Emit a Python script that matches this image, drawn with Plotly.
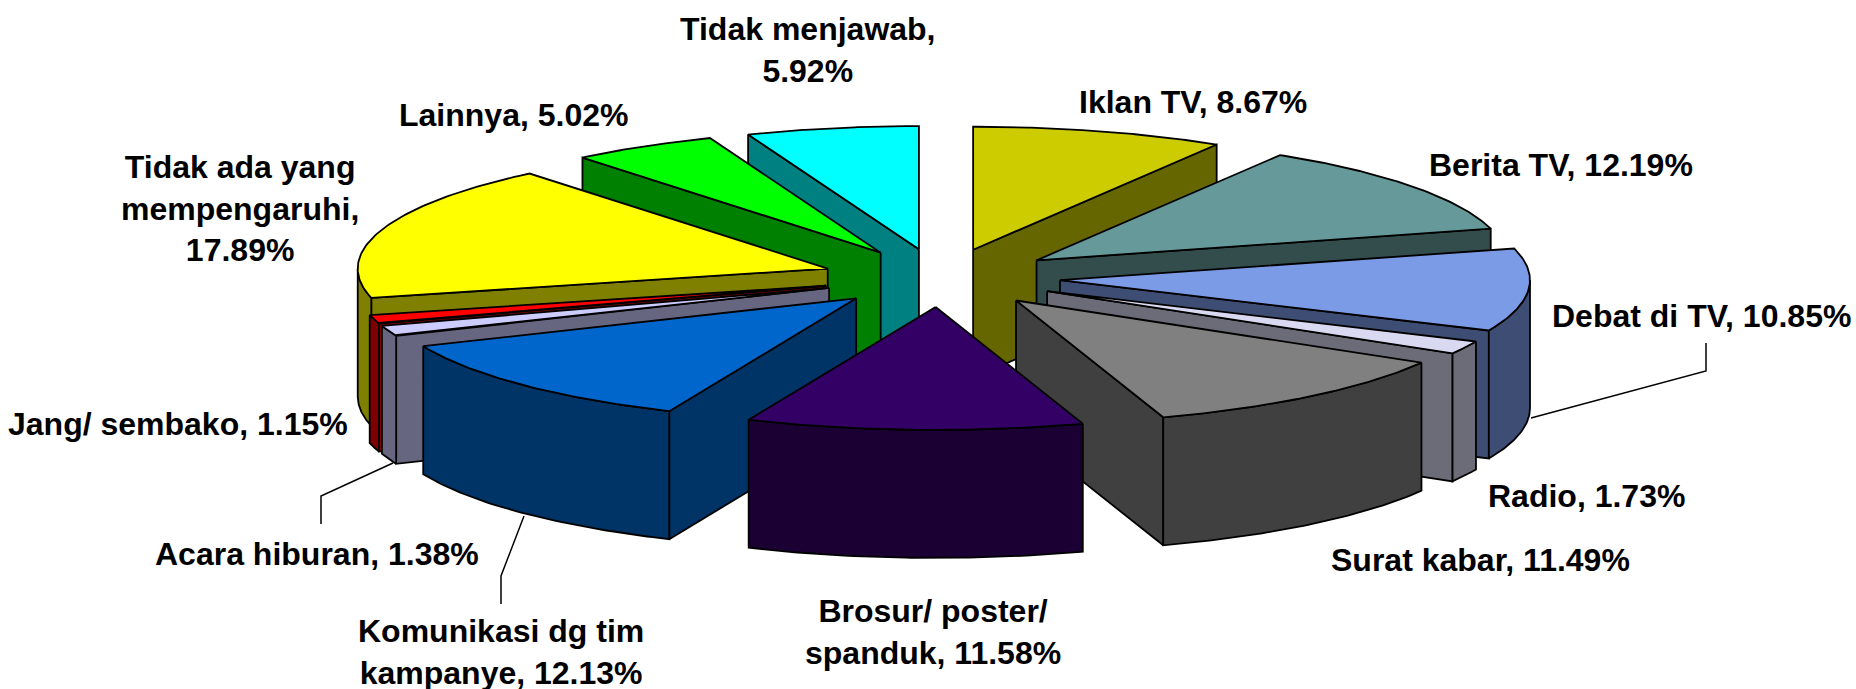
import numpy as np
import plotly.graph_objects as go

categories = ["Iklan TV", "Berita TV", "Debat di TV", "Radio", "Surat kabar",
              "Brosur/ poster/ spanduk", "Komunikasi dg tim kampanye",
              "Acara hiburan", "Jang/ sembako", "Tidak ada yang mempengaruhi",
              "Lainnya", "Tidak menjawab"]
values = [8.67, 12.19, 10.85, 1.73, 11.49, 11.58, 12.13, 1.38, 1.15, 17.89, 5.02, 5.92]
top_colors = ["#CCCC00", "#669999", "#7B9BE6", "#D9D9F2", "#808080", "#330066",
              "#0066CC", "#CCCCFF", "#FF0000", "#FFFF00", "#00FF00", "#00FFFF"]
side_colors = ["#666600", "#334D4D", "#3D4D73", "#6C6C79", "#404040", "#1A0033",
               "#003366", "#666680", "#800000", "#808000", "#008000", "#008080"]
label_texts = ["Iklan TV, {}", "Berita TV, {}", "Debat di TV, {}", "Radio, {}",
               "Surat kabar, {}", "Brosur/ poster/<br>spanduk, {}",
               "Komunikasi dg tim<br>kampanye, {}", "Acara hiburan, {}",
               "Jang/ sembako, {}", "Tidak ada yang<br>mempengaruhi,<br>{}",
               "Lainnya, {}", "Tidak menjawab,<br>{}"]
label_x = [1193, 1561, 1701, 1586, 1480, 933, 501, 317, 178, 240, 513, 808]
label_y = [102, 165, 316, 496, 560, 632, 652, 554, 424, 208, 115, 50]
leaders = [([1706, 1706, 1531], [343, 371, 418]),
           ([393, 321, 321], [463, 496, 524]),
           ([524, 501, 501], [516, 576, 604])]

W, H = 1856, 689
CX, CY, RX, RY = 941.0, 277.8, 470.0, 123.0
EXPLODE_X, EXPLODE_Y, DEPTH = 0.254, 0.237, 128.0
EDGE = dict(color="black", width=1.8)

fig = go.Figure()


def face(xs, ys, color):
    fig.add_trace(go.Scatter(x=list(xs), y=list(ys), mode="lines", fill="toself",
                             fillcolor=color, line=EDGE, hoverinfo="skip",
                             showlegend=False))


for lx, ly in leaders:
    fig.add_trace(go.Scatter(x=lx, y=ly, mode="lines", hoverinfo="skip",
                             line=dict(color="black", width=1.5), showlegend=False))

edges = np.cumsum([0] + values) / sum(values) * 2 * np.pi
mids = (edges[:-1] + edges[1:]) / 2

for i in np.argsort(-np.cos(mids)):
    t1, t2, m = edges[i], edges[i + 1], mids[i]
    ax = CX + EXPLODE_X * RX * np.sin(m)
    ay = CY - EXPLODE_Y * RY * np.cos(m)
    px = lambda t: ax + RX * np.sin(t)
    py = lambda t: ay - RY * np.cos(t)
    for t, visible in ((t1, np.sin(t1) < 0), (t2, np.sin(t2) > 0)):
        if visible:
            face([ax, px(t), px(t), ax, ax],
                 [ay, py(t), py(t) + DEPTH, ay + DEPTH, ay], side_colors[i])
    lo, hi = max(t1, np.pi / 2), min(t2, 3 * np.pi / 2)
    if hi > lo:
        arc = np.linspace(lo, hi, 60)
        face(np.r_[px(arc), px(arc)[::-1], px(arc)[0]],
             np.r_[py(arc), py(arc)[::-1] + DEPTH, py(arc)[0]], side_colors[i])
    arc = np.linspace(t1, t2, 80)
    face(np.r_[ax, px(arc), ax], np.r_[ay, py(arc), ay], top_colors[i])

for text, v, x, y in zip(label_texts, values, label_x, label_y):
    fig.add_annotation(x=x, y=y, text="<b>" + text.format(f"{v:.2f}%") + "</b>",
                       showarrow=False, align="center", xanchor="center", yanchor="middle",
                       font=dict(family="Liberation Sans", size=32, color="black"))

fig.update_layout(width=W, height=H, margin=dict(l=0, r=0, t=0, b=0),
                  paper_bgcolor="white", plot_bgcolor="white", showlegend=False,
                  xaxis=dict(range=[0, W], visible=False, fixedrange=True),
                  yaxis=dict(range=[H, 0], visible=False, fixedrange=True))
fig.write_html("out.html", config=dict(displayModeBar=False),
               post_script="document.body.style.margin='0';document.body.style.overflow='hidden';")
